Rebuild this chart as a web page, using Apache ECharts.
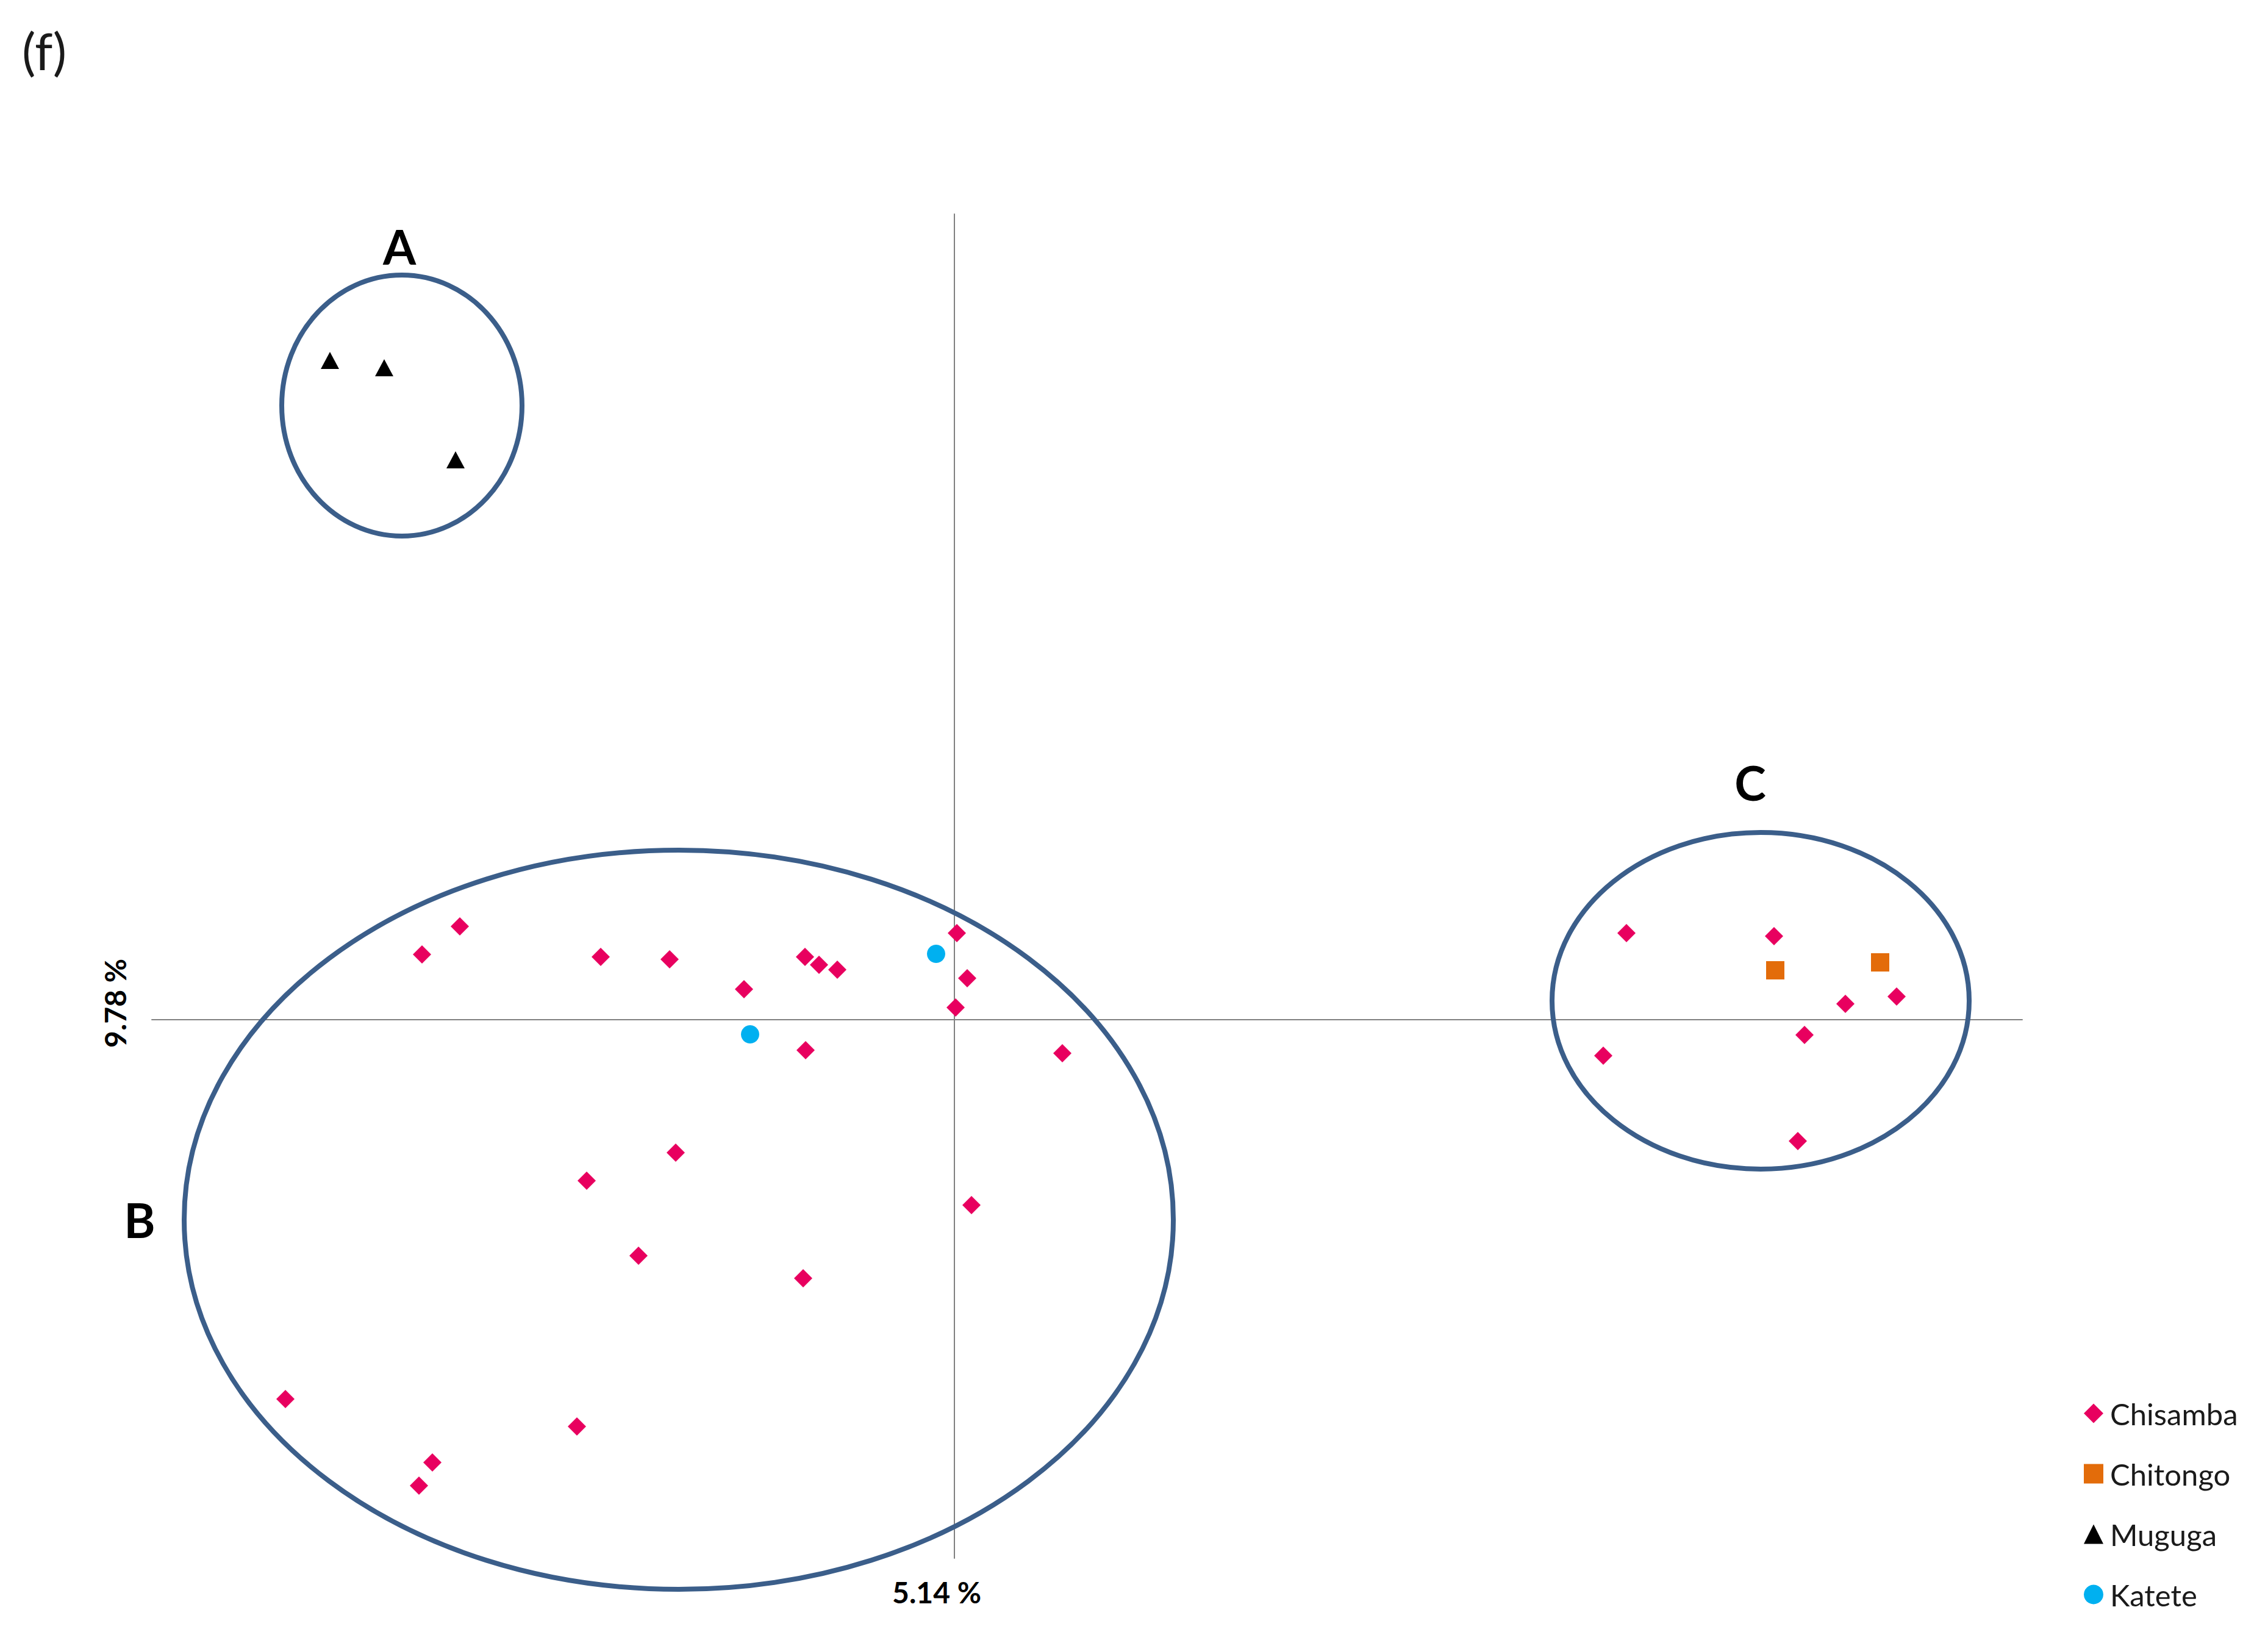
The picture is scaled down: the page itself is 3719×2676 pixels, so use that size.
<!DOCTYPE html>
<html>
<head>
<meta charset="utf-8">
<title>PCoA (f)</title>
<script src="https://cdn.jsdelivr.net/npm/echarts@6/dist/echarts.min.js"></script>
<style>
  html, body { margin: 0; padding: 0; background: #fff; }
  #chart { width: 3719px; height: 2676px; }
</style>
</head>
<body>
<div id="chart"></div>
<script>
// coordinates on the two principal axes (arbitrary units, origin = axis cross)
var chisamba = [
  [-0.873, 0.107], [-0.811, 0.153], [-0.580, 0.103], [-0.467, 0.099],
  [-0.245, 0.103], [-0.222, 0.090], [-0.192, 0.082], [-0.345, 0.050],
  [0.004, 0.142], [0.021, 0.068], [0.002, 0.020], [-0.244, -0.050],
  [0.177, -0.055], [-1.097, -0.622], [-0.856, -0.726], [-0.878, -0.764],
  [-0.619, -0.667], [-0.603, -0.264], [-0.457, -0.218], [-0.518, -0.387],
  [-0.248, -0.424], [0.028, -0.304],
  [1.102, 0.142], [1.344, 0.137], [1.461, 0.026], [1.545, 0.038],
  [1.394, -0.025], [1.064, -0.059], [1.383, -0.199]
]
var chitongo = [[1.346, 0.081], [1.518, 0.094]]
var muguga = [[-1.024, 1.081], [-0.935, 1.069], [-0.818, 0.918]]
var katete = [[-0.030, 0.108], [-0.335, -0.024]]

// cluster ellipses
var clusterNames = ['A', 'B', 'C']
var clusterCenters = [[-0.906, 1.007], [-0.452, -0.328], [1.322, 0.031]]
var clusterRadii = [[0.197, 0.214], [0.811, 0.606], [0.342, 0.276]]
var clusterLabelPos = [[-0.910, 1.268], [-1.336, -0.328], [1.305, 0.389]]

var axisTitleX = '5.14 %'
var axisTitleY = '9.78 %'

var FONT = 'Lato, "Open Sans", sans-serif'

var clusters = clusterNames.map(function (n, i) {
  return {
    name: n,
    value: [clusterCenters[i][0], clusterCenters[i][1], clusterRadii[i][0], clusterRadii[i][1],
      clusterLabelPos[i][0], clusterLabelPos[i][1]]
  }
})

var chart = echarts.init(document.getElementById('chart'), null, { renderer: 'svg' })

var option = {
  backgroundColor: '#ffffff',
  animation: false,
  textStyle: { fontFamily: FONT },
  grid: { left: 249, right: 403, top: 351, bottom: 121 },
  xAxis: {
    type: 'value',
    min: -1.316,
    max: 1.751,
    axisLine: { onZero: true, lineStyle: { color: '#808080', width: 2 } },
    axisTick: { show: false },
    axisLabel: { show: false },
    splitLine: { show: false }
  },
  yAxis: {
    type: 'value',
    min: -0.883,
    max: 1.321,
    axisLine: { onZero: true, lineStyle: { color: '#808080', width: 2 } },
    axisTick: { show: false },
    axisLabel: { show: false },
    splitLine: { show: false }
  },
  legend: {
    orient: 'vertical',
    left: 3417,
    top: 2293,
    padding: 0,
    itemWidth: 32,
    itemHeight: 32,
    itemGap: 50,
    textStyle: { fontFamily: FONT, fontSize: 49, color: '#1a1a1a', padding: [0, 0, 0, 6] },
    data: ['Chisamba', 'Chitongo', 'Muguga', 'Katete']
  },
  graphic: [
    {
      type: 'text', left: 36, top: 40,
      style: { text: '(f)', font: '84px ' + FONT, fill: '#1a1a1a' }
    },
    {
      type: 'text', x: 1536, y: 2610,
      style: { text: axisTitleX, font: 'bold 48px ' + FONT, fill: '#000', align: 'center', verticalAlign: 'middle' }
    },
    {
      type: 'text', x: 188, y: 1645, rotation: Math.PI / 2,
      style: { text: axisTitleY, font: 'bold 48px ' + FONT, fill: '#000', align: 'center', verticalAlign: 'middle' }
    }
  ],
  series: [
    {
      type: 'custom',
      name: 'clusters',
      clip: false,
      silent: true,
      z: 1,
      data: clusters,
      renderItem: function (params, api) {
        var c = api.coord([api.value(0), api.value(1)])
        var r = api.size([api.value(2), api.value(3)])
        var l = api.coord([api.value(4), api.value(5)])
        return {
          type: 'group',
          children: [
            {
              type: 'ellipse',
              shape: { cx: c[0], cy: c[1], rx: r[0], ry: r[1] },
              style: { fill: 'none', stroke: '#3B5E8A', lineWidth: 8 }
            },
            {
              type: 'text',
              x: l[0], y: l[1],
              style: {
                text: clusters[params.dataIndex].name,
                font: 'bold 78px ' + FONT,
                fill: '#000',
                align: 'center',
                verticalAlign: 'middle'
              }
            }
          ]
        }
      }
    },
    {
      name: 'Chisamba', type: 'scatter', symbol: 'diamond', symbolSize: 30, z: 3,
      itemStyle: { color: '#E8005F', opacity: 1 }, data: chisamba
    },
    {
      name: 'Chitongo', type: 'scatter', symbol: 'rect', symbolSize: 30, z: 3,
      itemStyle: { color: '#E36C0A', opacity: 1 }, data: chitongo
    },
    {
      name: 'Muguga', type: 'scatter', symbol: 'triangle', symbolSize: [30, 28], z: 3,
      itemStyle: { color: '#000000', opacity: 1 }, data: muguga
    },
    {
      name: 'Katete', type: 'scatter', symbol: 'circle', symbolSize: 30, z: 3,
      itemStyle: { color: '#00B0F0', opacity: 1 }, data: katete
    }
  ]
}

chart.setOption(option)
window.addEventListener('resize', function () { chart.resize() })
</script>
</body>
</html>
